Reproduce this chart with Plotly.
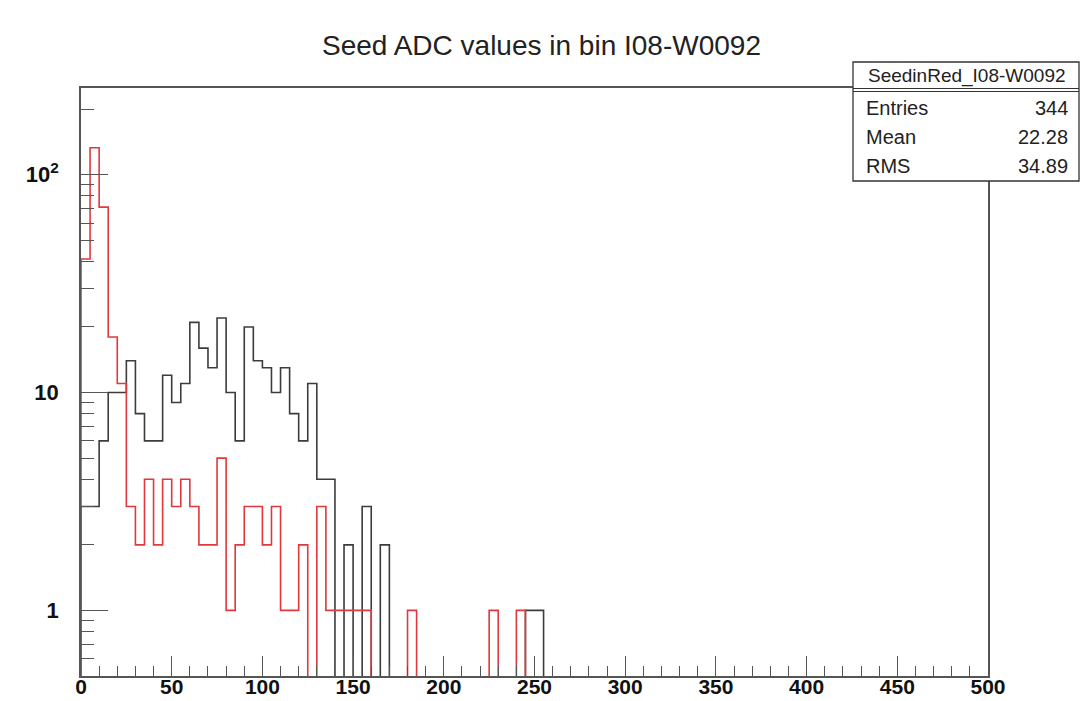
import plotly.graph_objects as go
import math

# ---------------- data ----------------
bin_width = 5
x_min, x_max = 0, 500
n_bins = 100

# counts for bins 0-5, 5-10, ... (first 52 bins shown; rest are empty)
black_counts = [3, 3, 6, 10, 10, 14, 8, 6, 6, 12,
                9, 11, 21, 16, 13, 22, 10, 6, 20, 14,
                13, 10, 13, 8, 6, 11, 4, 4, 0, 2,
                0, 3, 0, 2, 0, 0, 0, 0, 0, 0,
                0, 0, 0, 0, 0, 0, 0, 0, 0, 1,
                1, 0]
red_counts = [41, 133, 71, 18, 11, 3, 2, 4, 2, 4,
              3, 4, 3, 2, 2, 5, 1, 2, 3, 3,
              2, 3, 1, 1, 2, 0, 3, 1, 1, 1,
              1, 1, 0, 0, 0, 0, 1, 0, 0, 0,
              0, 0, 0, 0, 0, 1, 0, 0, 1, 0,
              0, 0]

title_text = "Seed ADC values in bin I08-W0092"
stats_name = "SeedinRed_I08-W0092"
stats_labels = ["Entries", "Mean", "RMS"]
stats_values = ["344", "22.28", "34.89"]

x_tick_vals = [0, 50, 100, 150, 200, 250, 300, 350, 400, 450, 500]
y_tick_vals = [1, 10, 100]
y_tick_text = ["1", "10", "10<sup>2</sup>"]
y_minor_vals = [0.6, 0.7, 0.8, 0.9, 2, 3, 4, 5, 6, 7, 8, 9,
                20, 30, 40, 50, 60, 70, 80, 90, 200]
y_range_lo, y_range_hi = 0.5, 250

# ---------------- helpers ----------------
FLOOR = 1e-3  # empty bins fall below the visible log range (as in ROOT)


def step_outline(counts):
    full = list(counts) + [0] * (n_bins - len(counts))
    edges = [x_min + i * bin_width for i in range(n_bins + 1)]
    ys = [c if c > 0 else FLOOR for c in full]
    xs = [x_min] + edges
    ys = [FLOOR] + ys + [FLOOR]
    return xs, ys


fig = go.Figure()
for counts, color in [(black_counts, "#3c3c3c"), (red_counts, "#e0383c")]:
    xs, ys = step_outline(counts)
    fig.add_trace(go.Scatter(x=xs, y=ys, mode="lines",
                             line=dict(shape="hv", color=color, width=1.6),
                             hoverinfo="skip", showlegend=False))

FONT = "Liberation Sans, Arial, sans-serif"
axis_col = "#555555"

fig.update_layout(
    width=1083, height=701,
    margin=dict(l=81, r=95, t=88, b=25, autoexpand=False),
    paper_bgcolor="white", plot_bgcolor="white",
    title=dict(text=title_text, x=0.5, xref="container", xanchor="center",
               y=1 - 45 / 701, yref="container", yanchor="middle",
               font=dict(family=FONT, size=28, color="#222222")),
    xaxis=dict(range=[x_min, x_max], showgrid=False, zeroline=False,
               showline=True, linecolor=axis_col, linewidth=1.6, mirror=True,
               tickmode="array", tickvals=x_tick_vals,
               ticks="inside", ticklen=20, tickwidth=1.4, tickcolor=axis_col,
               minor=dict(dtick=10, ticks="inside", ticklen=10,
                          tickwidth=1.4, tickcolor=axis_col, showgrid=False),
               tickfont=dict(family=FONT, size=21, color="#111111",
                             weight="bold"),
               ticklabelstandoff=-9, automargin=False),
    yaxis=dict(type="log",
               range=[math.log10(y_range_lo), math.log10(y_range_hi)],
               showgrid=False, zeroline=False,
               showline=True, linecolor=axis_col, linewidth=1.6, mirror=True,
               tickmode="array", tickvals=y_tick_vals, ticktext=y_tick_text,
               ticks="inside", ticklen=27, tickwidth=1.4, tickcolor=axis_col,
               minor=dict(tickmode="array", tickvals=y_minor_vals,
                          ticks="inside", ticklen=13, tickwidth=1.4,
                          tickcolor=axis_col, showgrid=False),
               tickfont=dict(family=FONT, size=22, color="#111111",
                             weight="bold"),
               ticklabelstandoff=16, automargin=False),
)

# ---------------- stats box (ROOT style) ----------------
PW, PH, L, T = 907.0, 588.0, 81.0, 88.0


def px(xp):
    return (xp - L) / PW


def py(yp):
    return (T + PH - yp) / PH


fig.add_shape(type="rect", xref="paper", yref="paper",
              x0=px(853), x1=px(1079), y0=py(181), y1=py(62),
              line=dict(color="#333333", width=1.3), fillcolor="white",
              layer="above")
for yline in (88.5, 91.5):
    fig.add_shape(type="line", xref="paper", yref="paper",
                  x0=px(853), x1=px(1079), y0=py(yline), y1=py(yline),
                  line=dict(color="#333333", width=1.2), layer="above")

fig.add_annotation(text=stats_name, xref="paper", yref="paper",
                   x=px(967), y=py(76), xanchor="center", yanchor="middle",
                   showarrow=False,
                   font=dict(family=FONT, size=19, color="#222222"))
for i, (lab, val) in enumerate(zip(stats_labels, stats_values)):
    yy = py(108 + i * 29)
    fig.add_annotation(text=lab, xref="paper", yref="paper", x=px(864), y=yy,
                       xanchor="left", yanchor="middle", showarrow=False,
                       font=dict(family=FONT, size=20, color="#222222"))
    fig.add_annotation(text=val, xref="paper", yref="paper", x=px(1070), y=yy,
                       xanchor="right", yanchor="middle", showarrow=False,
                       font=dict(family=FONT, size=20, color="#222222"))

fig.write_html("out.html")
